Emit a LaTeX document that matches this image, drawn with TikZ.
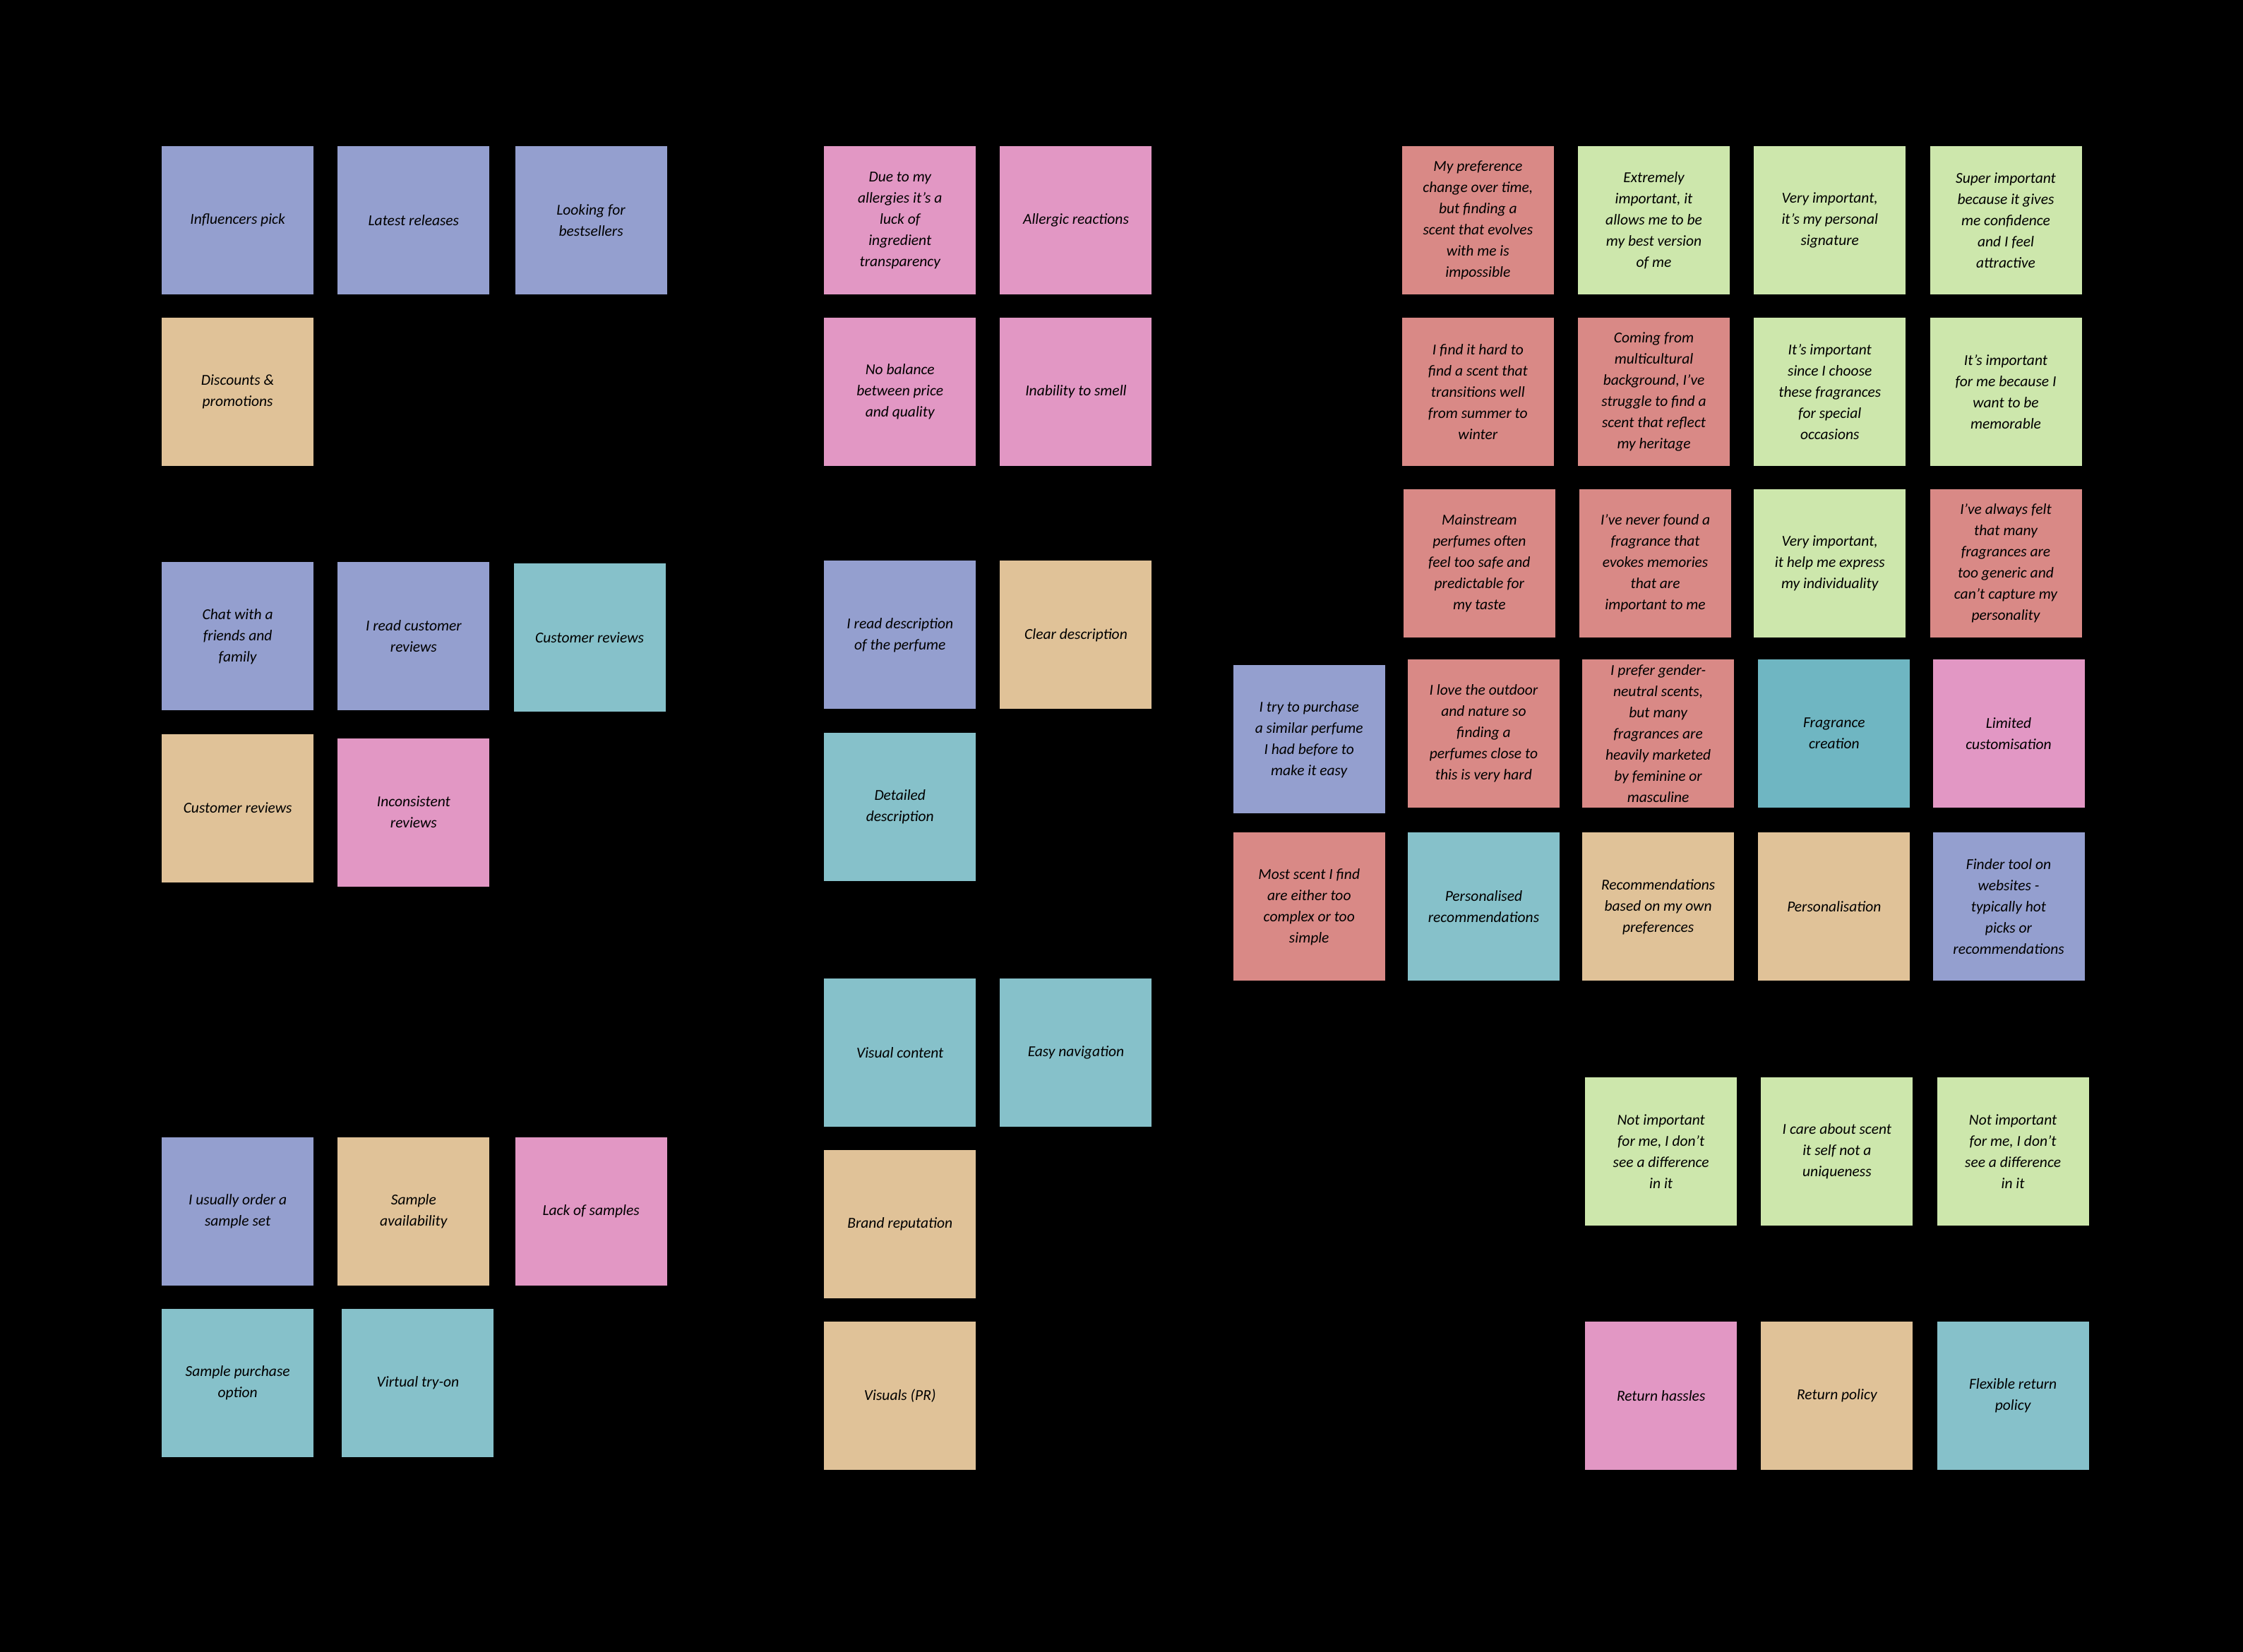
\documentclass[tikz,border=0pt]{standalone}
\usepackage{fontspec}
\newfontfamily\hand{Carlito}
\definecolor{cblue}{RGB}{148,159,207}
\definecolor{ctan}{RGB}{224,194,152}
\definecolor{cpink}{RGB}{226,151,196}
\definecolor{cteal}{RGB}{134,193,202}
\definecolor{cdteal}{RGB}{111,182,194}
\definecolor{cred}{RGB}{217,137,134}
\definecolor{cgreen}{RGB}{205,231,172}
\tikzset{
  note/.style={anchor=north west, minimum width=215pt, minimum height=210pt,
    inner sep=0pt, align=center, text=black,
    font=\hand\itshape\fontsize{21.5}{30}\selectfont}
}
\newcommand{\sn}[5]{\node[note, fill=#4] (#1) at (#2,#3) {#5};}
\begin{document}
\begin{tikzpicture}[x=2.02615pt,y=-2.02597pt]
\fill[black] (0,0) rectangle (1568,1155);
\useasboundingbox (0,0) rectangle (1568,1155);
% left
\sn{n1}{113}{102}{cblue}{Influencers pick}
\sn{n2}{236}{102}{cblue}{Latest releases}
\sn{n3}{360}{102}{cblue}{Looking for\\bestsellers}
\sn{n4}{113}{222}{ctan}{Discounts \&\\promotions}
\sn{n5}{113}{393}{cblue}{Chat with a\\friends and\\family}
\sn{n6}{236}{393}{cblue}{I read customer\\reviews}
\sn{n7}{359}{394}{cteal}{Customer reviews}
\sn{n8}{113}{513}{ctan}{Customer reviews}
\sn{n9}{236}{516}{cpink}{Inconsistent\\reviews}
\sn{n10}{113}{795}{cblue}{I usually order a\\sample set}
\sn{n11}{236}{795}{ctan}{Sample\\availability}
\sn{n12}{360}{795}{cpink}{Lack of samples}
\sn{n13}{113}{915}{cteal}{Sample purchase\\option}
\sn{n14}{239}{915}{cteal}{Virtual try-on}
% middle
\sn{m1}{576}{102}{cpink}{Due to my\\allergies it’s a\\luck of\\ingredient\\transparency}
\sn{m2}{699}{102}{cpink}{Allergic reactions}
\sn{m3}{576}{222}{cpink}{No balance\\between price\\and quality}
\sn{m4}{699}{222}{cpink}{Inability to smell}
\sn{m5}{576}{392}{cblue}{I read description\\of the perfume}
\sn{m6}{699}{392}{ctan}{Clear description}
\sn{m7}{576}{512}{cteal}{Detailed\\description}
\sn{m8}{576}{684}{cteal}{Visual content}
\sn{m9}{699}{684}{cteal}{Easy navigation}
\sn{m10}{576}{804}{ctan}{Brand reputation}
\sn{m11}{576}{924}{ctan}{Visuals (PR)}
% right
\sn{r1}{980}{102}{cred}{My preference\\change over time,\\but finding a\\scent that evolves\\with me is\\impossible}
\sn{r2}{1103}{102}{cgreen}{Extremely\\important, it\\allows me to be\\my best version\\of me}
\sn{r3}{1226}{102}{cgreen}{Very important,\\it’s my personal\\signature}
\sn{r4}{1349}{102}{cgreen}{Super important\\because it gives\\me confidence\\and I feel\\attractive}
\sn{r5}{980}{222}{cred}{I find it hard to\\find a scent that\\transitions well\\from summer to\\winter}
\sn{r6}{1103}{222}{cred}{Coming from\\multicultural\\background, I’ve\\struggle to find a\\scent that reflect\\my heritage}
\sn{r7}{1226}{222}{cgreen}{It’s important\\since I choose\\these fragrances\\for special\\occasions}
\sn{r8}{1349}{222}{cgreen}{It’s important\\for me because I\\want to be\\memorable}
\sn{r9}{981}{342}{cred}{Mainstream\\perfumes often\\feel too safe and\\predictable for\\my taste}
\sn{r10}{1104}{342}{cred}{I’ve never found a\\fragrance that\\evokes memories\\that are\\important to me}
\sn{r11}{1226}{342}{cgreen}{Very important,\\it help me express\\my individuality}
\sn{r12}{1349}{342}{cred}{I’ve always felt\\that many\\fragrances are\\too generic and\\can’t capture my\\personality}
\sn{r13}{862}{465}{cblue}{I try to purchase\\a similar perfume\\I had before to\\make it easy}
\sn{r14}{984}{461}{cred}{I love the outdoor\\and nature so\\finding a\\perfumes close to\\this is very hard}
\sn{r15}{1106}{461}{cred}{I prefer gender-\\neutral scents,\\but many\\fragrances are\\heavily marketed\\by feminine or\\masculine}
\sn{r16}{1229}{461}{cdteal}{Fragrance\\creation}
\sn{r17}{1351}{461}{cpink}{Limited\\customisation}
\sn{r18}{862}{582}{cred}{Most scent I find\\are either too\\complex or too\\simple}
\sn{r19}{984}{582}{cteal}{Personalised\\recommendations}
\sn{r20}{1106}{582}{ctan}{Recommendations\\based on my own\\preferences}
\sn{r21}{1229}{582}{ctan}{Personalisation}
\sn{r22}{1351}{582}{cblue}{Finder tool on\\websites -\\typically hot\\picks or\\recommendations}
\sn{r23}{1108}{753}{cgreen}{Not important\\for me, I don’t\\see a difference\\in it}
\sn{r24}{1231}{753}{cgreen}{I care about scent\\it self not a\\uniqueness}
\sn{r25}{1354}{753}{cgreen}{Not important\\for me, I don’t\\see a difference\\in it}
\sn{r26}{1108}{924}{cpink}{Return hassles}
\sn{r27}{1231}{924}{ctan}{Return policy}
\sn{r28}{1354}{924}{cteal}{Flexible return\\policy}
\end{tikzpicture}
\end{document}
